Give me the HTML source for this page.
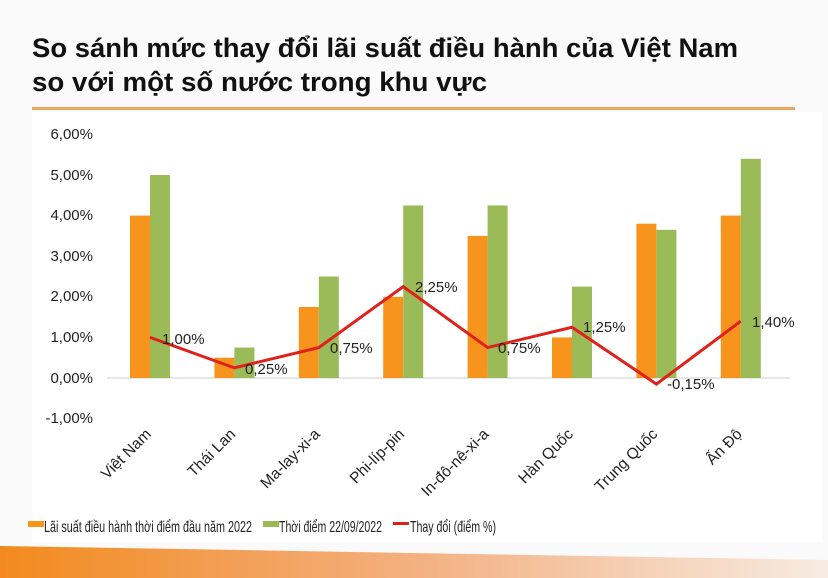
<!DOCTYPE html>
<html><head><meta charset="utf-8"><style>
body{margin:0;background:#fafafa;}
svg{display:block;font-family:"Liberation Sans Narrow","Liberation Sans",sans-serif;}
</style></head><body>
<svg width="828" height="578" xmlns="http://www.w3.org/2000/svg">
<defs>
<linearGradient id="sw" x1="0" x2="1" y1="0" y2="0">
<stop offset="0" stop-color="#f28a1e"/><stop offset="0.5" stop-color="#f3b080"/><stop offset="1" stop-color="#f7ebe2"/>
</linearGradient>
</defs>
<rect x="0" y="0" width="828" height="578" fill="#fafafa"/>
<rect x="32" y="112" width="790" height="430" fill="#fff"/>
<text x="32" y="57" font-size="27" font-weight="bold" fill="#111" textLength="706" lengthAdjust="spacingAndGlyphs">So sánh mức thay đổi lãi suất điều hành của Việt Nam</text>
<text x="32" y="91" font-size="27" font-weight="bold" fill="#111" textLength="455" lengthAdjust="spacingAndGlyphs">so với một số nước trong khu vực</text>
<rect x="32" y="107" width="763" height="3" fill="#e8a75c"/>
<polygon points="0,546 828,560 828,578 0,578" fill="url(#sw)"/>
<g font-family="Liberation Sans,sans-serif" font-size="15" fill="#222" text-anchor="end">
<text x="93" y="139">6,00%</text><text x="93" y="180">5,00%</text><text x="93" y="220">4,00%</text>
<text x="93" y="261">3,00%</text><text x="93" y="301">2,00%</text><text x="93" y="342">1,00%</text>
<text x="93" y="383">0,00%</text><text x="93" y="423">-1,00%</text>
</g>
<line x1="107" y1="378" x2="790" y2="378" stroke="#ccc" stroke-width="1"/>
<g fill="#f7941d">
<rect x="130" y="215.6" width="20" height="162.4"/>
<rect x="214.4" y="357.7" width="20" height="20.3"/>
<rect x="298.8" y="306.95" width="20" height="71.05"/>
<rect x="383.2" y="296.8" width="20" height="81.2"/>
<rect x="467.6" y="235.9" width="20" height="142.1"/>
<rect x="552" y="337.4" width="20" height="40.6"/>
<rect x="636.4" y="223.7" width="20" height="154.3"/>
<rect x="720.8" y="215.6" width="20" height="162.4"/>
</g>
<g fill="#9bbb59">
<rect x="150" y="175" width="20" height="203"/>
<rect x="234.4" y="347.55" width="20" height="30.45"/>
<rect x="318.8" y="276.5" width="20" height="101.5"/>
<rect x="403.2" y="205.45" width="20" height="172.55"/>
<rect x="487.6" y="205.45" width="20" height="172.55"/>
<rect x="572" y="286.65" width="20" height="91.35"/>
<rect x="656.4" y="229.8" width="20" height="148.2"/>
<rect x="740.8" y="158.8" width="20" height="219.2"/>
</g>
<polyline points="150,337.4 234.4,367.85 318.8,347.55 403.2,286.65 487.6,347.55 572,327.25 656.4,384.1 740.8,321.2" fill="none" stroke="#e0201b" stroke-width="3"/>
<g font-family="Liberation Sans,sans-serif" font-size="15" fill="#222">
<text x="162" y="344">1,00%</text>
<text x="245" y="374">0,25%</text>
<text x="330" y="353">0,75%</text>
<text x="415" y="292">2,25%</text>
<text x="498" y="353">0,75%</text>
<text x="583" y="332">1,25%</text>
<text x="667" y="389">-0,15%</text>
<text x="752" y="327">1,40%</text>
</g>
<g font-family="Liberation Sans,sans-serif" font-size="15.5" fill="#222" text-anchor="end">
<text transform="translate(152,435) rotate(-45)">Việt Nam</text>
<text transform="translate(236.4,435) rotate(-45)">Thái Lan</text>
<text transform="translate(320.8,435) rotate(-45)">Ma-lay-xi-a</text>
<text transform="translate(405.2,435) rotate(-45)">Phi-líp-pin</text>
<text transform="translate(489.6,435) rotate(-45)">In-đô-nê-xi-a</text>
<text transform="translate(574,435) rotate(-45)">Hàn Quốc</text>
<text transform="translate(658.4,435) rotate(-45)">Trung Quốc</text>
<text transform="translate(742.8,435) rotate(-45)">Ấn Độ</text>
</g>
<g font-family="Liberation Sans,sans-serif" font-size="16" fill="#222">
<rect x="28" y="521" width="16" height="6" fill="#f7941d"/>
<text x="44" y="532" textLength="208" lengthAdjust="spacingAndGlyphs">Lãi suất điều hành thời điểm đầu năm 2022</text>
<rect x="263" y="521" width="16" height="6" fill="#9bbb59"/>
<text x="279" y="532" textLength="103" lengthAdjust="spacingAndGlyphs">Thời điểm 22/09/2022</text>
<rect x="393" y="522" width="16" height="3" fill="#e0201b"/>
<text x="410" y="532" textLength="86" lengthAdjust="spacingAndGlyphs">Thay đổi (điểm %)</text>
</g>
</svg>
</body></html>
